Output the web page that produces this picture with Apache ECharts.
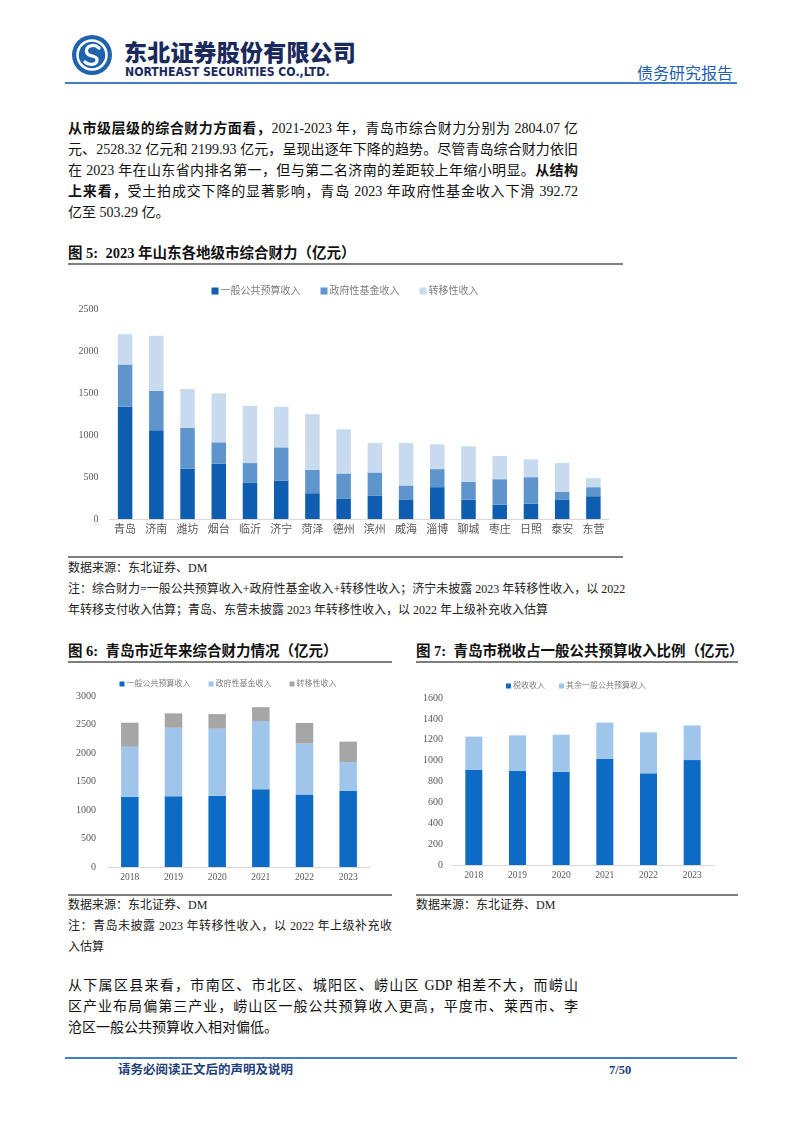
<!DOCTYPE html>
<html>
<head>
<meta charset="utf-8">
<script src="https://cdn.jsdelivr.net/npm/echarts@6/dist/echarts.min.js"></script>
<style>
  body { margin: 0; background: #fff; }
  #page { position: relative; width: 802px; height: 1133px; background: #fff; overflow: hidden;
    font-family: "Liberation Serif", "Noto Sans CJK SC", serif; color: #111; }
  .abs { position: absolute; }
  .line { position: absolute; height: 1.5px; }
  .txt div { text-align: justify; text-align-last: justify; white-space: nowrap; }
  .txt div.last { text-align-last: left; }
  .title { font-size: 14.5px; font-weight: bold; line-height: 20px; white-space: nowrap; }
  .note { font-size: 12px; line-height: 21px; color: #222; }
  .body { font-size: 14px; line-height: 21px; color: #111; }
</style>
</head>
<body>
<div id="page">
  <!-- header -->
  <svg class="abs" style="left:70px;top:33px" width="44" height="44" viewBox="0 0 44 44">
    <circle cx="22" cy="22" r="20" fill="#1f63ad"/>
    <circle cx="22" cy="22" r="14.5" fill="none" stroke="#fff" stroke-width="2.5"/>
    <path d="M29 15 C24 10 14 13 17 20 C19 24 26 22 27 26 C28 32 19 33 15 29" fill="none" stroke="#fff" stroke-width="3.2" stroke-linecap="round"/>
  </svg>
  <div class="abs" style="left:124px;top:37px;font-family:'Noto Sans CJK SC';font-weight:900;font-size:23px;line-height:28px;color:#1b2a5c;letter-spacing:0.2px">东北证券股份有限公司</div>
  <div class="abs" style="left:125px;top:65px;font-family:'DejaVu Sans';font-weight:bold;font-size:11.5px;line-height:14px;color:#1b2a5c;transform:scaleX(0.95);transform-origin:left">NORTHEAST SECURITIES CO.,LTD.</div>
  <div class="abs" style="left:637px;top:62px;font-family:'Noto Sans CJK SC';font-size:16px;line-height:20px;color:#1f5fae">债务研究报告</div>
  <div class="line" style="left:65px;top:82px;width:672px;background:#3f7fca"></div>

  <!-- paragraph 1 -->
  <div class="abs txt body" style="left:68px;top:118px;width:510px">
    <div><b>从市级层级的综合财力方面看，</b>2021-2023 年，青岛市综合财力分别为 2804.07 亿</div>
    <div>元、2528.32 亿元和 2199.93 亿元，呈现出逐年下降的趋势。尽管青岛综合财力依旧</div>
    <div>在 2023 年在山东省内排名第一，但与第二名济南的差距较上年缩小明显。<b>从结构</b></div>
    <div><b>上来看，</b>受土拍成交下降的显著影响，青岛 2023 年政府性基金收入下滑 392.72</div>
    <div class="last">亿至 503.29 亿。</div>
  </div>

  <!-- figure 5 -->
  <div class="abs title" style="left:68px;top:243px">图 5:&nbsp; 2023 年山东各地级市综合财力（亿元）</div>
  <div class="line" style="left:68px;top:263px;width:555px;background:#7f7f7f"></div>
  <div id="chart5" class="abs" style="left:60px;top:265px;width:570px;height:290px"></div>
  <div class="line" style="left:68px;top:556px;width:555px;background:#7f7f7f"></div>
  <div class="abs txt note" style="left:68px;top:558px;width:555px">
    <div class="last">数据来源：东北证券、DM</div>
    <div>注：综合财力=一般公共预算收入+政府性基金收入+转移性收入；济宁未披露 2023 年转移性收入，以 2022</div>
    <div class="last">年转移支付收入估算；青岛、东营未披露 2023 年转移性收入，以 2022 年上级补充收入估算</div>
  </div>

  <!-- figure 6 -->
  <div class="abs title" style="left:68px;top:641px">图 6:&nbsp; 青岛市近年来综合财力情况（亿元）</div>
  <div class="line" style="left:68px;top:661px;width:324px;background:#7f7f7f"></div>
  <div id="chart6" class="abs" style="left:60px;top:663px;width:336px;height:230px"></div>
  <div class="line" style="left:68px;top:894px;width:324px;background:#7f7f7f"></div>
  <div class="abs txt note" style="left:68px;top:895px;width:324px">
    <div class="last">数据来源：东北证券、DM</div>
    <div>注：青岛未披露 2023 年转移性收入，以 2022 年上级补充收</div>
    <div class="last">入估算</div>
  </div>

  <!-- figure 7 -->
  <div class="abs title" style="left:416px;top:641px">图 7:&nbsp; 青岛市税收占一般公共预算收入比例（亿元）</div>
  <div class="line" style="left:416px;top:661px;width:322px;background:#7f7f7f"></div>
  <div id="chart7" class="abs" style="left:408px;top:663px;width:336px;height:230px"></div>
  <div class="line" style="left:416px;top:894px;width:322px;background:#7f7f7f"></div>
  <div class="abs txt note" style="left:416px;top:895px;width:322px">
    <div class="last">数据来源：东北证券、DM</div>
  </div>

  <!-- paragraph 2 -->
  <div class="abs txt body" style="left:68px;top:975px;width:510px">
    <div>从下属区县来看，市南区、市北区、城阳区、崂山区 GDP 相差不大，而崂山</div>
    <div>区产业布局偏第三产业，崂山区一般公共预算收入更高，平度市、莱西市、李</div>
    <div class="last">沧区一般公共预算收入相对偏低。</div>
  </div>

  <!-- footer -->
  <div class="line" style="left:65px;top:1057px;width:672px;background:#3f7fca"></div>
  <div class="abs" style="left:118px;top:1061px;font-size:12.5px;line-height:18px;font-weight:bold;color:#1f3f7a">请务必阅读正文后的声明及说明</div>
  <div class="abs" style="left:609px;top:1061px;font-size:12.5px;line-height:18px;font-weight:bold;color:#1f3f7a">7/50</div>
</div>

<script>
// 图5 2023年山东各地级市综合财力（亿元）
const cities = ['青岛', '济南', '潍坊', '烟台', '临沂', '济宁', '菏泽', '德州',
  '滨州', '威海', '淄博', '聊城', '枣庄', '日照', '泰安', '东营'];
const cityGeneral = [1337, 1057, 598, 658, 435, 458, 307, 239, 275, 227, 379, 231, 171, 183, 227, 271];
const cityFund = [503, 470, 486, 255, 231, 395, 279, 303, 279, 172, 215, 212, 303, 315, 96, 108];
const cityTransfer = [360, 654, 463, 582, 682, 483, 662, 527, 351, 506, 295, 422, 276, 212, 343, 107];

// 图6 青岛市近年来综合财力
const years = ['2018', '2019', '2020', '2021', '2022', '2023'];
const qdGeneral = [1230, 1242, 1248, 1365, 1271, 1337];
const qdFund = [879, 1201, 1178, 1195, 896, 503];
const qdTransfer = [422, 252, 257, 244, 361, 360];

// 图7 税收占一般公共预算收入
const qdTax = [910, 900, 893, 1018, 878, 1005];
const qdOther = [320, 342, 355, 347, 393, 332];

const serif = '"Liberation Serif", "Noto Sans CJK SC", serif';

function barSeries(name, data, color, width) {
  return {
    name: name,
    type: 'bar',
    stack: 'total',
    barWidth: width,
    data: data,
    itemStyle: { color: color },
    animation: false,
  };
}

function baseOption(cfg) {
  return {
    animation: false,
    legend: {
      top: cfg.legendTop,
      left: 'center',
      icon: 'rect',
      itemWidth: cfg.legendIcon,
      itemHeight: cfg.legendIcon,
      itemGap: cfg.legendGap,
      textStyle: { color: '#7f7f7f', fontSize: cfg.legendFont, fontFamily: serif, padding: [0, 0, 0, -3] },
    },
    grid: cfg.grid,
    xAxis: {
      type: 'category',
      data: cfg.categories,
      axisLine: { lineStyle: { color: '#d9d9d9', width: 1 } },
      axisTick: { show: false },
      axisLabel: { color: '#595959', fontSize: cfg.xFont, fontFamily: serif, margin: cfg.xMargin },
    },
    yAxis: {
      type: 'value',
      min: 0,
      max: cfg.max,
      interval: cfg.interval,
      axisLine: { show: false },
      axisTick: { show: false },
      splitLine: { show: false },
      axisLabel: {
        color: '#595959', fontSize: 10, fontFamily: serif, margin: cfg.yMargin,
        formatter: function (v) { return String(v); },
      },
    },
    series: cfg.series,
  };
}

const chart5 = echarts.init(document.getElementById('chart5'));
chart5.setOption(baseOption({
  categories: cities,
  legendTop: 16, legendIcon: 7, legendGap: 20, legendFont: 10,
  grid: { left: 49.5, right: 21, top: 44, bottom: 36 },
  xFont: 11, xMargin: 6, yMargin: 11,
  max: 2500, interval: 500,
  series: [
    barSeries('一般公共预算收入', cityGeneral, '#0e5db0', 14.5),
    barSeries('政府性基金收入', cityFund, '#5f95cd', 14.5),
    barSeries('转移性收入', cityTransfer, '#c8daee', 14.5),
  ],
}));

const chart6 = echarts.init(document.getElementById('chart6'));
chart6.setOption(baseOption({
  categories: years,
  legendTop: 12, legendIcon: 5, legendGap: 18, legendFont: 8,
  grid: { left: 48, right: 26, top: 33, bottom: 26 },
  xFont: 9.5, xMargin: 6, yMargin: 12,
  max: 3000, interval: 500,
  series: [
    barSeries('一般公共预算收入', qdGeneral, '#0d6bc6', 17.5),
    barSeries('政府性基金收入', qdFund, '#9fc5ea', 17.5),
    barSeries('转移性收入', qdTransfer, '#a6a6a6', 17.5),
  ],
}));

const chart7 = echarts.init(document.getElementById('chart7'));
chart7.setOption(baseOption({
  categories: years,
  legendTop: 14, legendIcon: 5, legendGap: 14, legendFont: 8,
  grid: { left: 44, right: 30, top: 35, bottom: 28 },
  xFont: 9.5, xMargin: 6, yMargin: 9,
  max: 1600, interval: 200,
  series: [
    barSeries('税收收入', qdTax, '#0d6bc6', 17),
    barSeries('其余一般公共预算收入', qdOther, '#9fc5ea', 17),
  ],
}));
</script>
</body>
</html>
